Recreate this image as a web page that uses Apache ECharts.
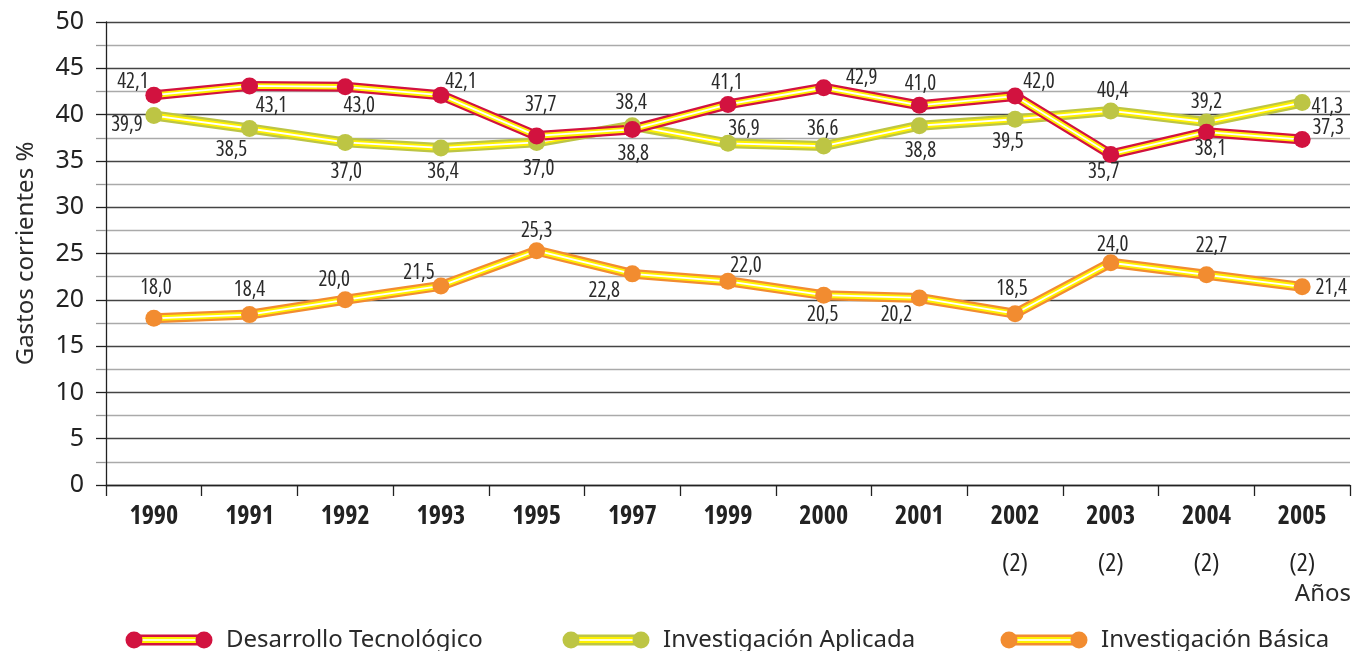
<!DOCTYPE html>
<html>
<head>
<meta charset="utf-8">
<script src="https://cdn.jsdelivr.net/npm/echarts@6/dist/echarts.min.js"></script>
<style>
    html,body{margin:0;padding:0;background:#fff;}
    #chart{width:1354px;height:651px;}
</style>
</head>
<body>
<div id="chart"></div>
<script>
// datos
var years=['1990','1991','1992','1993','1995','1997','1999','2000','2001','2002','2003','2004','2005'];
var yearNotes=['','','','','','','','','','(2)','(2)','(2)','(2)'];
var desarrollo=[42.1,43.1,43.0,42.1,37.7,38.4,41.1,42.9,41.0,42.0,35.7,38.1,37.3];
var aplicada=[39.9,38.5,37.0,36.4,37.0,38.8,36.9,36.6,38.8,39.5,40.4,39.2,41.3];
var basica=[18.0,18.4,20.0,21.5,25.3,22.8,22.0,20.5,20.2,18.5,24.0,22.7,21.4];

// desplazamiento de etiquetas (px) respecto al punto
var offDes=[[-21,-13],[22,20],[14,19],[20,-13],[4,-31],[-1,-26],[-1,-21],[38,-10],[1,-21],[24,-14],[-7,18],[4,17],[26,-12]];
var offApl=[[-27,9],[-18,22],[1,30],[2,24],[2,27],[1,28],[16,-14],[-1,-17],[1,25],[-7,23],[2,-20],[0,-20],[25,4]];
var offBas=[[2,-30],[0,-25],[-11,-20],[-22,-13],[0,-20],[-28,17],[18,-15],[-1,20],[-23,17],[-3,-25],[2,-18],[5,-29],[29,1]];

var sans='"Noto Sans",sans-serif';
var narrow='"Open Sans","Noto Sans",sans-serif';

function icon(color){
    var svg="<svg xmlns='http://www.w3.org/2000/svg' width='96' height='18'>"+
        "<rect x='8' y='3.5' width='72' height='11' fill='"+color+"'/>"+
        "<rect x='8' y='6' width='72' height='6' fill='#fff200'/>"+
        "<rect x='8' y='8.2' width='72' height='1.6' fill='#fff'/>"+
        "<circle cx='9' cy='9' r='8.5' fill='"+color+"'/>"+
        "<circle cx='79' cy='9' r='8.5' fill='"+color+"'/></svg>";
    return 'image://data:image/svg+xml;charset=utf-8,'+encodeURIComponent(svg);
}

function fmt(v){
    return v.toFixed(1).replace('.',',');
}

function makeSeries(name,values,color,offsets){
    var base={type:'line',data:values,symbol:'none',silent:true,animation:false};
    var outer=Object.assign({},base,{name:name+' ',lineStyle:{width:10,color:color}});
    var yellow=Object.assign({},base,{name:name+'  ',lineStyle:{width:5.5,color:'#fff200'}});
    var white=Object.assign({},base,{name:name+'   ',lineStyle:{width:1.8,color:'#ffffff'}});
    var dots={
        type:'line',
        name:name,
        animation:false,
        symbol:'circle',
        symbolSize:17,
        lineStyle:{width:0,opacity:0},
        itemStyle:{color:color},
        data:values.map(function(v,i){
            return {value:v,label:{offset:offsets[i]}};
        }),
        label:{
            show:true,
            position:'inside',
            color:'#2a2a2a',
            fontFamily:narrow,
            fontStyle:'condensed',
            fontSize:21,
            formatter:function(p){return fmt(p.value);}
        }
    };
    return [outer,yellow,white,dots];
}

var colDes='#d2123f',colApl='#bdc544',colBas='#f28c30';

var series=[].concat(
    makeSeries('Investigación Básica',basica,colBas,offBas),
    makeSeries('Investigación Aplicada',aplicada,colApl,offApl),
    makeSeries('Desarrollo Tecnológico',desarrollo,colDes,offDes)
);

function legend(name,color,left){
    return {
        data:[{name:name,icon:icon(color)}],
        left:left,
        top:623,
        itemWidth:96,
        itemHeight:18,
        selectedMode:false,
        textStyle:{fontFamily:sans,fontSize:24,color:'#2a2a2a'}
    };
}

var chart=echarts.init(document.getElementById('chart'));
chart.setOption({
    animation:false,
    backgroundColor:'#ffffff',
    grid:{left:106,right:4,top:22,bottom:166},
    legend:[
        legend('Desarrollo Tecnológico',colDes,120),
        legend('Investigación Aplicada',colApl,557),
        legend('Investigación Básica',colBas,995)
    ],
    graphic:[{
        type:'text',
        right:3,
        top:582,
        style:{text:'Años',fontFamily:sans,fontSize:24,fill:'#2a2a2a'}
    }],
    xAxis:{
        type:'category',
        data:years,
        boundaryGap:true,
        axisLine:{lineStyle:{color:'#222',width:1.3}},
        axisTick:{show:true,interval:0,length:11,lineStyle:{color:'#222',width:1.3}},
        axisLabel:{
            interval:0,
            margin:16,
            formatter:function(v,i){
                var s='{y|'+v+'}';
                if(yearNotes[i]){s+='\n{n|'+yearNotes[i]+'}';}
                return s;
            },
            rich:{
                y:{fontFamily:narrow,fontStyle:'condensed',fontWeight:'bold',fontSize:26,color:'#222',lineHeight:32},
                n:{fontFamily:narrow,fontStyle:'condensed',fontSize:26,color:'#222',lineHeight:62}
            }
        },
        splitLine:{show:false}
    },
    yAxis:{
        type:'value',
        min:0,
        max:50,
        interval:5,
        name:'Gastos corrientes %',
        nameLocation:'middle',
        nameGap:68,
        nameTextStyle:{fontFamily:sans,fontSize:24,color:'#2a2a2a'},
        axisLine:{show:true,lineStyle:{color:'#222',width:1.3}},
        axisTick:{show:true,length:10,lineStyle:{color:'#222',width:1.3}},
        minorTick:{show:true,splitNumber:2,length:10,lineStyle:{color:'#999',width:1.3}},
        axisLabel:{margin:22,fontFamily:sans,fontSize:25,color:'#222'},
        splitLine:{show:true,lineStyle:{color:'#444',width:1.3}},
        minorSplitLine:{show:true,lineStyle:{color:'#aaa',width:1.3}}
    },
    series:series
});
</script>
</body>
</html>
